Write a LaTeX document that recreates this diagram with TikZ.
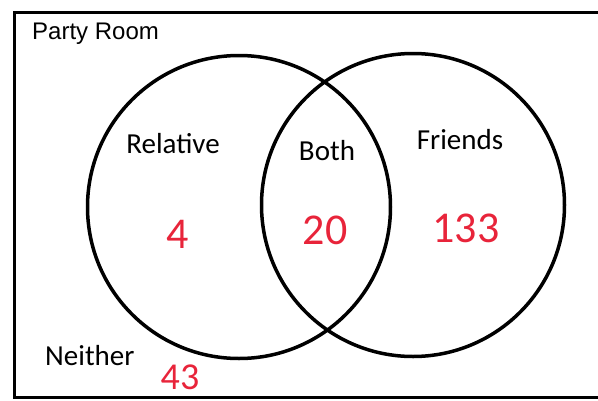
\documentclass[tikz,border=0pt]{standalone}
\usepackage{fontspec}
\setmainfont{Carlito}
\newfontfamily\arialfont{Liberation Sans}
\usetikzlibrary{positioning}

\begin{document}
\begin{tikzpicture}[x=1pt,y=-1pt,room/.style={line width=3pt},set/.style={draw, circle, line width=3.5pt, minimum size=303pt, inner sep=0pt},label/.style={font=\fontsize{29}{32}\selectfont, inner sep=0pt},count/.style={text={rgb,255:red,232;green,36;blue,58}, font=\fontsize{44}{48}\selectfont, inner sep=0pt}]
\useasboundingbox (0,0) rectangle (598,400);
\coordinate (TR) at (598,12); \coordinate (TL) at (14,12); \coordinate (BL) at (14,397); \coordinate (BR) at (598,397);
\draw[room] (TR) -- (TL) -- (BL) -- (BR);
\node[set] (relative) at (239,207) {}; \node[set] (friends) at (413,205) {};
\node[label,font=\arialfont\fontsize{24}{27}\selectfont,anchor=west] (room) at (32,34) {Party Room};
\node[label] (relname) at (173,144) {Relative}; \node[label] (bothname) at (327,151) {Both}; \node[label] (friendname) at (460,140) {Friends};
\node[label,anchor=west] (neither) at (45,356) {Neither};
\node[count] (nrel) at (178,234) {4}; \node[count] (nboth) at (325,230) {20}; \node[count] (nfri) at (466,228) {133}; \node[count,font=\fontsize{38}{42}\selectfont] (nnei) at (180,377) {43};
\end{tikzpicture}
\end{document}
